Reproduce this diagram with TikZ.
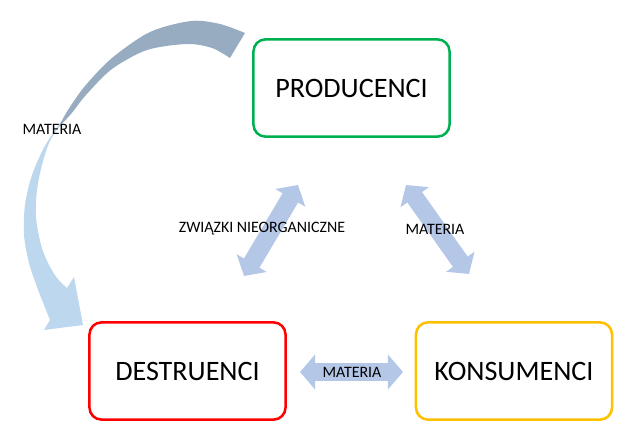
\documentclass[tikz,border=0pt]{standalone}
\usepackage{fontspec}
\setmainfont{Carlito}
\usetikzlibrary{arrows.meta}
\definecolor{prodgreen}{RGB}{0,176,80}
\definecolor{destred}{RGB}{255,0,0}
\definecolor{konsorange}{RGB}{255,192,0}
\definecolor{flowblue}{RGB}{180,199,231}
\definecolor{cycledark}{RGB}{151,172,192}
\definecolor{cyclelight}{RGB}{189,215,238}

\begin{document}
\begin{tikzpicture}[x=0.025cm, y=-0.025cm,
    group/.style={draw, line width=1.8pt, rounded corners=0.3cm,
        minimum width=4.9cm, minimum height=2.43cm,
        font=\fontsize{20}{24}\selectfont},
    flow/.style={flowblue, line width=0.45cm,
        {Triangle[length=0.375cm, width=0.85cm]}-{Triangle[length=0.375cm, width=0.85cm]}},
    flowlabel/.style={font=\fontsize{11.3}{13}\selectfont, inner sep=1pt}]
    \useasboundingbox (0,0) rectangle (640,445);

    % the three groups
    \node[group, draw=prodgreen] (prod) at (351.5,88) {PRODUCENCI};
    \node[group, draw=destred] (destr) at (187.5,371) {DESTRUENCI};
    \node[group, draw=konsorange] (kons) at (514,371) {KONSUMENCI};

    % big curved arrow (light front part, then dark back part)
    \fill[cyclelight] plot[smooth] coordinates {(67,288) (57,278) (48,263) (41,245) (36,217) (37,190) (42,165) (50,141) (66,115)}
        -- plot[smooth] coordinates {(66,115) (46,144) (32,175) (25,205) (24,235) (29,263) (37,287) (44,305) (50,320)}
        -- (44,330) -- (83,325) -- (74,277) -- cycle;
    \fill[cycledark] plot[smooth] coordinates {(245,33) (220,24) (191,21) (150,32) (112,58) (85,86) (68,110) (58,128)}
        -- plot[smooth] coordinates {(58,128) (71,114) (86,95) (112,69) (147,50) (187,44) (212,48) (230,58)}
        -- cycle;

    % ends of the block arrows
    \coordinate (zl) at (244,276);
    \coordinate (zu) at (298,185);
    \coordinate (mu) at (406,185);
    \coordinate (ml) at (469,274);
    \coordinate (hl) at (300,372);
    \coordinate (hr) at (403,372);

    \draw[flow] (zl) -- (zu);
    \draw[flow] (mu) -- (ml);
    \draw[flow] (hl) -- (hr);

    % labels
    \node[flowlabel] (lzw) at (262,229) {ZWIĄZKI NIEORGANICZNE};
    \node[flowlabel] (lmp) at (435,229) {MATERIA};
    \node[flowlabel] (lmh) at (352,372) {MATERIA};
    \node[flowlabel] (lmc) at (52,129) {MATERIA};
\end{tikzpicture}
\end{document}
